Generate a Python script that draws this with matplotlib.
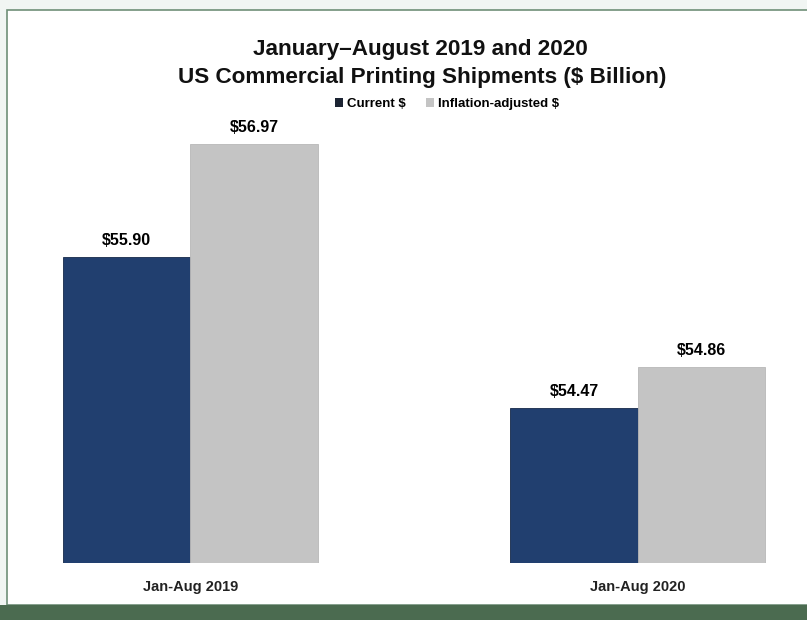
import matplotlib
matplotlib.use('Agg')
import matplotlib.pyplot as plt
from matplotlib.patches import Rectangle, Patch
import numpy as np

CATEGORIES = ['Jan-Aug 2019', 'Jan-Aug 2020']
CURRENT = [55.90, 54.47]
ADJUSTED = [56.97, 54.86]
SERIES = ['Current $', 'Inflation-adjusted $']

NAVY = '#213f6f'
GREY = '#c4c4c4'
GREEN = '#4b6b50'
FAM = ['Liberation Sans', 'DejaVu Sans']

W, H = 807, 620
BAND = 15  # height of the green strip at the bottom, px
fig = plt.figure(figsize=(W / 100, H / 100), dpi=100)
fig.patch.set_facecolor('#f1f5f3')

# white panel with a thin green frame, dark green band at the bottom
fig.add_artist(Rectangle((7 / W, BAND / H), 1 - 7 / W + 0.01, (H - 10 - BAND) / H,
                         transform=fig.transFigure, facecolor='white',
                         edgecolor='#6f8f78', linewidth=1.2, zorder=0))
fig.add_artist(Rectangle((0, 0), 1, BAND / H, transform=fig.transFigure,
                         facecolor=GREEN, edgecolor='none', zorder=0))

ax = fig.add_axes([20 / W, 57 / H, (795 - 20) / W, (563 - 119.5) / H])
ax.set_facecolor('none')

x = np.arange(len(CATEGORIES))
width = 0.2845
b1 = ax.bar(x - width / 2, CURRENT, width, color=NAVY, edgecolor='#16294a', linewidth=0.6)
b2 = ax.bar(x + width / 2, ADJUSTED, width, color=GREY, edgecolor='#b8b8b8', linewidth=0.6)

for bars, vals in [(b1, CURRENT), (b2, ADJUSTED)]:
    for rect, v in zip(bars, vals):
        ax.annotate('$%.2f' % v, (rect.get_x() + rect.get_width() / 2, v),
                    xytext=(0, 6), textcoords='offset points',
                    ha='center', va='bottom', fontsize=11.5,
                    fontweight='bold', family=FAM)

ax.set_ylim(53.0, 57.2)
ax.set_xlim(-0.381, 1.352)
ax.set_yticks([])
ax.set_xticks(x)
ax.set_xticklabels(CATEGORIES, family=FAM, fontsize=10.5,
                   fontweight='bold', color='#222222')
ax.tick_params(axis='x', length=0, pad=12)
for s in ax.spines.values():
    s.set_visible(False)

fig.text(420 / W, 1 - 50 / H, 'January\u2013August 2019 and 2020', ha='center', va='center',
         fontsize=16.2, fontweight='bold', family=FAM, color='#111111')
fig.text(422 / W, 1 - 78 / H, 'US Commercial Printing Shipments ($ Billion)', ha='center', va='center',
         fontsize=16.2, fontweight='bold', family=FAM, color='#111111')

handles = [Patch(facecolor='#1c2433', label=SERIES[0]), Patch(facecolor=GREY, label=SERIES[1])]
fig.legend(handles=handles, loc='center', bbox_to_anchor=(447 / W, 1 - 104 / H), ncol=2,
           frameon=False, handlelength=0.6, handleheight=0.6, handletextpad=0.3,
           columnspacing=1.6,
           prop={'family': FAM, 'size': 9.5, 'weight': 'bold'})

fig.savefig('out.png', dpi=100, facecolor=fig.get_facecolor())
